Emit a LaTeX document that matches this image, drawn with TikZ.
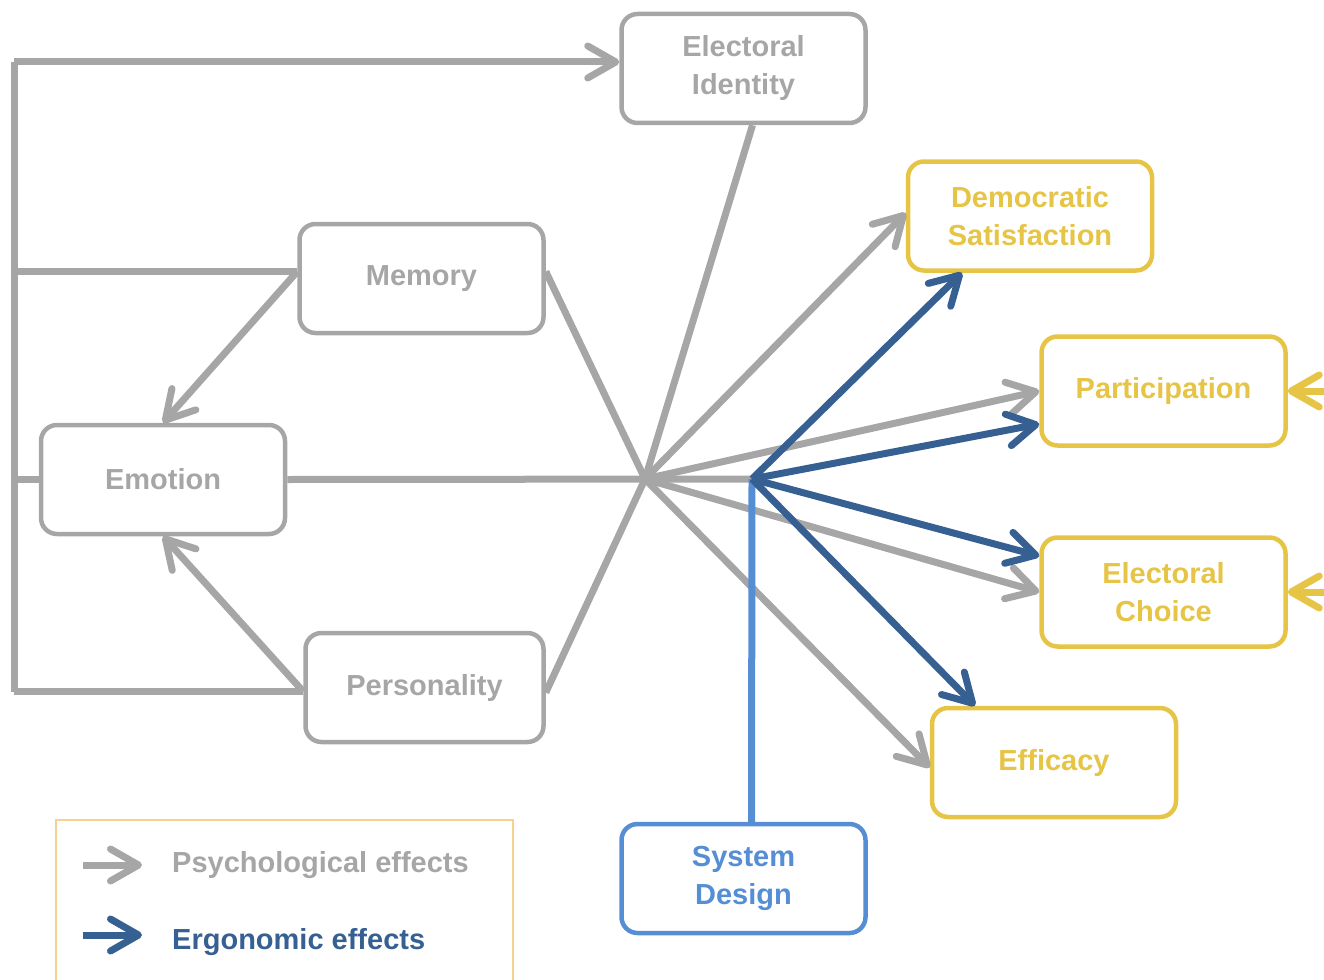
\documentclass[tikz,border=0pt]{standalone}
\usepackage{fontspec}
\setmainfont{Liberation Sans}
\usetikzlibrary{arrows.meta,calc}

\definecolor{psygray}{HTML}{A6A6A6}
\definecolor{ergoblue}{HTML}{376092}
\definecolor{sysblue}{HTML}{558ED5}
\definecolor{outgold}{HTML}{E6C446}
\definecolor{keyframe}{HTML}{F6D190}

\tikzset{
    chev/.tip={Straight Barb[round,length=28pt,width=32pt]},
    box/.style={draw,rounded corners=16pt,line width=4.5pt,minimum width=244pt,
        minimum height=109pt,align=center,font=\fontsize{29}{38}\selectfont\bfseries},
    psybox/.style={box,draw=psygray,text=psygray},
    outbox/.style={box,draw=outgold,text=outgold},
    sysbox/.style={box,draw=sysblue,text=sysblue},
    psy/.style={draw=psygray,line width=7pt},
    ergo/.style={draw=ergoblue,line width=7pt},
    sysline/.style={draw=sysblue,line width=7pt},
    outline/.style={draw=outgold,line width=7pt},
    keytext/.style={anchor=base west,inner sep=0pt,font=\fontsize{29}{38}\selectfont\bfseries},
}

\begin{document}
\begin{tikzpicture}[x=1pt,y=-1pt]
    \useasboundingbox (0,0) rectangle (1324,979);

    \node[psybox] (ei) at (743.5,68.5) {Electoral\\Identity};
    \node[psybox] (mem) at (421.5,278.5) {Memory};
    \node[psybox] (emo) at (163,479.5) {Emotion};
    \node[psybox,minimum width=238pt] (pers) at (424.5,687.5) {Personality};
    \node[outbox] (ds) at (1030,216) {Democratic\\Satisfaction};
    \node[outbox] (part) at (1163.5,391) {Participation};
    \node[outbox] (ec) at (1163.5,592) {Electoral\\Choice};
    \node[outbox] (eff) at (1054,762.5) {Efficacy};
    \node[sysbox] (sd) at (743.5,878.5) {System\\Design};

    \coordinate (hub) at (645,479);
    \coordinate (fork) at (752,479);
    \coordinate (rail) at (14,62);
    \coordinate (rim) at (1334,0);
    \coordinate (memout) at ($(mem.west)+(0,-7)$);
    \coordinate (persout) at ($(pers.west)+(0,4)$);

    % left rail
    \draw[psy] (persout -| rail) -- (rail);
    \draw[psy,-chev] (rail) -- (rail -| ei.west);
    \draw[psy] (persout) -- (persout -| rail);
    \draw[psy] (memout) -- (memout -| rail);
    \draw[psy] (emo.west) -- (emo.west -| rail);
    \draw[psy,-chev] (memout) -- (emo.north);
    \draw[psy,-chev] (persout) -- (emo.south);

    % psychological paths
    \draw[psy] (emo.east) -- (fork);
    \draw[psy] ($(mem.east)+(0,-7)$) -- (hub);
    \draw[psy] ($(pers.east)+(0,5)$) -- (hub);
    \draw[psy] ($(ei.south)+(9,0)$) -- (hub);
    \draw[psy,-chev] (hub) -- ($(ds.west)+(0,-3)$);
    \draw[psy,-chev] (hub) -- (part.west);
    \draw[psy,-chev] (hub) -- (ec.west);
    \draw[psy,-chev] (hub) -- ($(eff.west)+(0,5)$);

    % ergonomic paths
    \draw[sysline] ($(sd.north)+(8,0)$) -- (fork);
    \draw[ergo,-chev] (fork) -- ($(ds.south)+(-68,0)$);
    \draw[ergo,-chev] (fork) -- ($(part.west)+(0,33)$);
    \draw[ergo,-chev] (fork) -- ($(ec.west)+(0,-36)$);
    \draw[ergo,-chev] (fork) -- ($(eff.north)+(-79,0)$);

    % outputs to the right
    \draw[outline] ($(ds.east)+(0,-7)$) -- ($(ds.east)+(0,-7)$ -| rim);
    \draw[outline] ($(eff.east)+(0,8)$) -- ($(eff.east)+(0,8)$ -| rim);
    \draw[outline,-chev] (part.east -| rim) -- (part.east);
    \draw[outline,-chev] (ec.east -| rim) -- (ec.east);

    % legend
    \draw[keyframe,line width=1.5pt] (56,995) |- (513,820) -- (513,995);
    \node[keytext,text=psygray] (keypsy) at (172,872) {Psychological effects};
    \node[keytext,text=ergoblue] (keyergo) at (172,949) {Ergonomic effects};
    \draw[psy,-chev] ($(keypsy.base west)+(-89,-7)$) -- ++(59,0);
    \draw[ergo,-chev] ($(keyergo.base west)+(-89,-14)$) -- ++(59,0);
\end{tikzpicture}
\end{document}
